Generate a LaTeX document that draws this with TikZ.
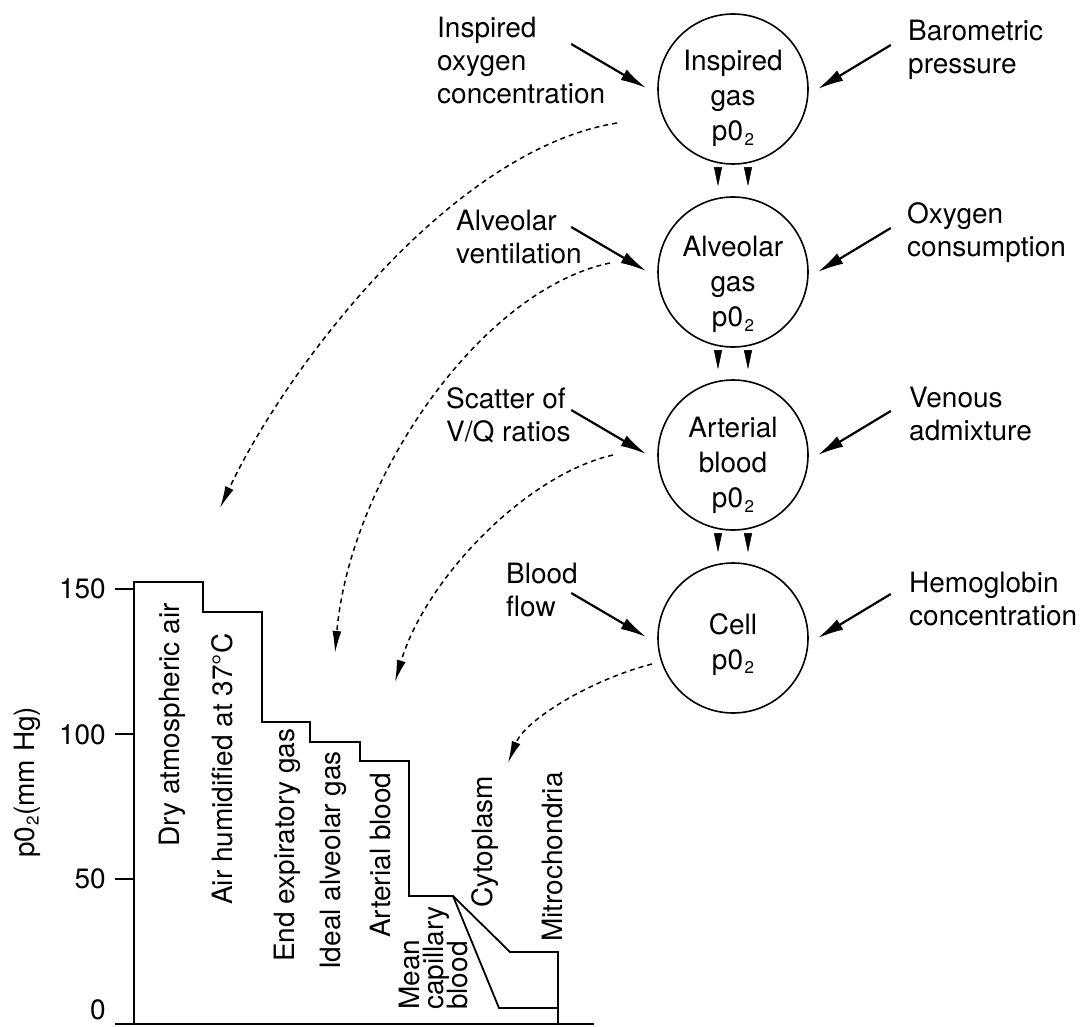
\documentclass[tikz,border=0pt]{standalone}
\usepackage{fontspec}
\setmainfont{TeX Gyre Heros}
\usetikzlibrary{arrows.meta,calc}
\newcommand{\pOsub}{p0\kern1.5pt\raisebox{-0.3ex}{\fontsize{17}{17}\selectfont 2}}
\newcommand{\tightfont}{\fontsize{28}{24}\selectfont\lineskiplimit=-50pt\relax}
\begin{document}
\begin{tikzpicture}[x=1pt,y=-1pt,
  every node/.style={inner sep=0pt},
  font=\fontsize{28}{33}\selectfont,
  circ/.style={circle,draw,line width=1.6pt,minimum size=150pt},
  ctext/.style={align=center,anchor=north,font=\fontsize{28}{35}\selectfont},
  lab/.style={align=left,anchor=north west},
  sarrow/.style={line width=2.2pt,-{Latex[length=26pt,width=12pt]}},
  darrow/.style={line width=1.5pt,dash pattern=on 5pt off 4pt,-{Latex[length=22pt,width=9pt]}},
  wedge/.style={-{Triangle[length=19pt,width=8pt]},line width=0.4pt},
  chartline/.style={line width=1.8pt,line join=miter},
  rlab/.style={rotate=90,anchor=west},
  ticklab/.style={anchor=east}
]
\useasboundingbox (0,0) rectangle (1082,1027);

% circles
\node[circ] (c1) at (733,89) {};
\node[circ] (c2) at (733,272) {};
\node[circ] (c3) at (733,455) {};
\node[circ] (c4) at (733,638) {};
\node[ctext] (t1) at (733,50) {Inspired\\gas\\\pOsub};
\node[ctext] (t2) at (733,236) {Alveolar\\gas\\\pOsub};
\node[ctext] (t3) at (733,417) {Arterial\\blood\\\pOsub};
\node[ctext] (t4) at (733,613) {Cell\\\pOsub};

% wedges between circles
\foreach \a/\b in {c1/c2,c2/c3,c3/c4}{
  \draw[wedge] ($(\a.south)+(-15,3)$) -- ($(\b.north)+(-15,-10)$);
  \draw[wedge] ($(\a.south)+(15,3)$) -- ($(\b.north)+(15,-10)$);
}

% side labels
\node[lab] (L1) at (437,17) {Inspired\\oxygen\\concentration};
\node[lab] (R1) at (908,20) {Barometric\\pressure};
\node[lab] (L2) at (456,210) {Alveolar\\ventilation};
\node[lab] (R2) at (907,202) {Oxygen\\consumption};
\node[lab] (L3) at (446,387) {Scatter of\\V/Q ratios};
\node[lab] (R3) at (909,387) {Venous\\admixture};
\node[lab] (L4) at (506,563) {Blood\\flow};
\node[lab] (R4) at (909,572) {Hemoglobin\\concentration};

% solid arrows
\foreach \c in {c1,c2,c3,c4}{
  \draw[sarrow] ($(\c.west)+(-86,-45)$) -- ($(\c.west)+(-11,-1)$);
  \draw[sarrow] ($(\c.east)+(82,-44)$) -- ($(\c.east)+(9,0)$);
}

% dashed curved arrows
\coordinate (d1s) at (617,123); \coordinate (d1e) at (220,508);
\coordinate (d2s) at (610,263); \coordinate (d2e) at (335,653);
\coordinate (d3s) at (613,455); \coordinate (d3e) at (395,682);
\coordinate (d4s) at (652,664); \coordinate (d4e) at (508,763);
\draw[darrow] (d1s) .. controls (450,150) and (285,370) .. (d1e);
\draw[darrow] (d2s) .. controls (480,290) and (350,480) .. (d2e);
\draw[darrow] (d3s) .. controls (525,475) and (425,580) .. (d3e);
\draw[darrow] (d4s) .. controls (590,680) and (525,720) .. (d4e);

% chart
\draw[chartline] (134,1024) -- (134,582) -- (203,582) -- (203,612) -- (262,612)
  -- (262,722) -- (310,722) -- (310,742) -- (360,742) -- (360,761) -- (409,761)
  -- (409,896) -- (453,896) -- (510,952) -- (558,952) -- (558,1024);
\draw[chartline] (453,896) -- (499,1008) -- (558,1008);
\draw[line width=2.2pt] (115,1024) -- (594,1024);
\foreach \v in {50,100,150}{
  \draw[chartline] (115,{1024-2.9*\v}) -- (134,{1024-2.9*\v});
}
\node[ticklab] (k150) at (106,589) {150};
\node[ticklab] (k100) at (106,735) {100};
\node[ticklab] (k50) at (106,879) {50};
\node[ticklab] (k0) at (106,1010) {0};
\node[rlab] (ylab) at (27,858) {\pOsub(mm Hg)};

\node[rlab] (b1) at (172,847) {Dry atmospheric air};
\node[rlab] (b2) at (222,905) {Air humidified at 37°C};
\node[rlab] (b3) at (287,962) {End expiratory gas};
\node[rlab] (b4) at (333,970) {Ideal alveolar gas};
\node[rlab] (b5) at (381,938) {Arterial blood};
\node[rotate=90,anchor=north west,align=left,font=\tightfont] (b6) at (399,1010) {Mean\\capillary\\blood};
\node[rlab] (b7) at (485,908) {Cytoplasm};
\node[rlab] (b8) at (552,942) {Mitrochondria};
\end{tikzpicture}
\end{document}
